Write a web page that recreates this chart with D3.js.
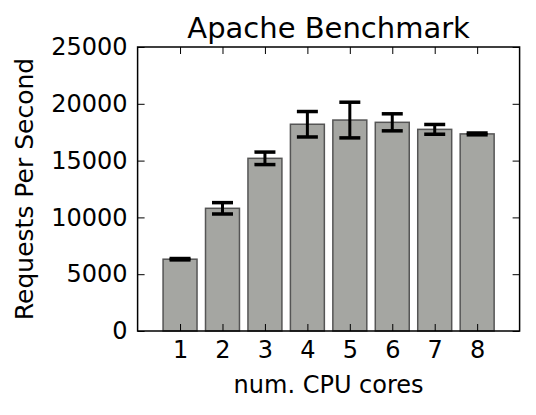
<!DOCTYPE html>
<html>
<head>
<meta charset="utf-8">
<script src="https://cdn.jsdelivr.net/npm/d3@7"></script>
<style>
  body { margin: 0; background: #fff; }
  text { font-family: "DejaVu Sans", sans-serif; fill: #000; }
</style>
</head>
<body>
<div id="chart"></div>
<script>
var cores = [1, 2, 3, 4, 5, 6, 7, 8];
var rps = [6320, 10800, 15200, 18200, 18570, 18370, 17750, 17350];
var err = [60, 500, 550, 1120, 1570, 750, 430, 80];
var yTicks = [0, 5000, 10000, 15000, 20000, 25000];

var W = 536, H = 415;
var margin = {top: 47, right: 16, bottom: 84, left: 137.6};
var width = 519.6 - margin.left, height = 331 - margin.top;

var svg = d3.select("#chart").append("svg")
    .attr("width", W).attr("height", H);

var g = svg.append("g")
    .attr("transform", "translate(" + margin.left + "," + margin.top + ")");

var x = d3.scaleLinear().domain([0, 9]).range([0, width]);
var y = d3.scaleLinear().domain([0, 25000]).range([height, 0]);
var bw = x(0.8) - x(0);

// bars
g.selectAll(".bar")
  .data(rps)
  .enter()
  .append("rect")
    .attr("x", function(d, i){ return x(cores[i]) - bw/2 })
    .attr("y", function(d){ return y(d) })
    .attr("width", bw)
    .attr("height", function(d){ return height - y(d) })
    .attr("fill", "#a5a6a2")
    .attr("stroke", "#555")
    .attr("stroke-width", 1.5);

// error bars
var eb = g.selectAll(".err")
  .data(rps)
  .enter()
  .append("g");
eb.append("line")
    .attr("x1", function(d, i){ return x(cores[i]) })
    .attr("x2", function(d, i){ return x(cores[i]) })
    .attr("y1", function(d, i){ return y(d + err[i]) })
    .attr("y2", function(d, i){ return y(d - err[i]) })
    .attr("stroke", "#000").attr("stroke-width", 3);
[1, -1].forEach(function(s){
  eb.append("line")
    .attr("x1", function(d, i){ return x(cores[i]) - 10.5 })
    .attr("x2", function(d, i){ return x(cores[i]) + 10.5 })
    .attr("y1", function(d, i){ return y(d + s*err[i]) })
    .attr("y2", function(d, i){ return y(d + s*err[i]) })
    .attr("stroke", "#000").attr("stroke-width", 3.5);
});

// axes (ticks inward, mirrored on top/right)
var tickLen = 7;
var xb = d3.axisBottom(x).tickValues(cores).tickSizeInner(-tickLen).tickSizeOuter(0).tickPadding(10);
var xt = d3.axisTop(x).tickValues(cores).tickSizeInner(-tickLen).tickSizeOuter(0).tickFormat("");
var yl = d3.axisLeft(y).tickValues(yTicks).tickSizeInner(-tickLen).tickSizeOuter(0).tickPadding(10).tickFormat(d3.format("d"));
var yr = d3.axisRight(y).tickValues(yTicks).tickSizeInner(-tickLen).tickSizeOuter(0).tickFormat("");

function styleAxis(a){
  a.select(".domain").remove();
  a.selectAll(".tick line").attr("stroke", "#000").attr("stroke-width", 1);
  a.selectAll(".tick text").style("font-size", "24px").attr("fill", "#000");
}
g.append("g").attr("transform", "translate(0," + height + ")").call(xb).call(styleAxis);
g.append("g").call(xt).call(styleAxis);
g.append("g").call(yl).call(styleAxis);
g.append("g").attr("transform", "translate(" + width + ",0)").call(yr).call(styleAxis);

g.append("rect")
    .attr("width", width).attr("height", height)
    .attr("fill", "none").attr("stroke", "#000").attr("stroke-width", 1.5);

// labels
svg.append("text")
    .attr("x", margin.left + width/2).attr("y", 38)
    .attr("text-anchor", "middle")
    .style("font-size", "29px")
    .text("Apache Benchmark");

svg.append("text")
    .attr("x", margin.left + width/2).attr("y", 393)
    .attr("text-anchor", "middle")
    .style("font-size", "24px")
    .text("num. CPU cores");

svg.append("text")
    .attr("transform", "translate(33," + (margin.top + height/2) + ") rotate(-90)")
    .attr("text-anchor", "middle")
    .style("font-size", "25px")
    .text("Requests Per Second");
</script>
</body>
</html>
